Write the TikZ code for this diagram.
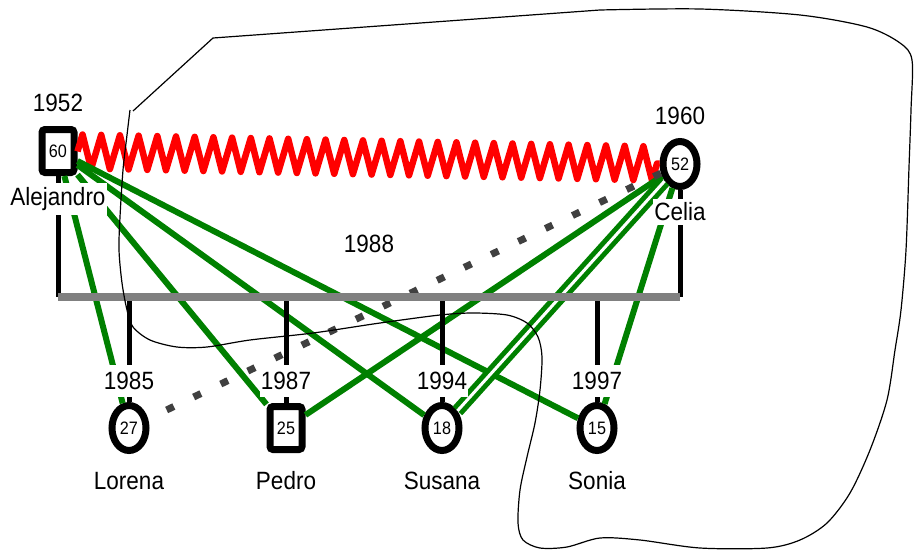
\documentclass[tikz,border=0pt]{standalone}
\usepackage{fontspec}
\setmainfont{Liberation Sans}[FakeStretch=0.9]
\usepackage{tikz}
\usetikzlibrary{shapes.geometric, decorations.pathmorphing, positioning}
\definecolor{kingreen}{RGB}{0,128,0}
\definecolor{bargray}{RGB}{128,128,128}
\definecolor{dotgray}{RGB}{64,64,64}
\tikzstyle{male} = [rectangle, rounded corners=3pt, minimum width=32pt, minimum height=43pt, inner sep=0pt, line width=7pt, draw=black, fill=white, font=\fontsize{18}{20}\selectfont]
\tikzstyle{female} = [ellipse, minimum width=34pt, minimum height=45pt, inner sep=0pt, line width=7pt, draw=black, fill=white, font=\fontsize{18}{20}\selectfont]
\tikzstyle{yearlbl} = [fill=white, inner xsep=1pt, inner ysep=7.5pt, font=\fontsize{25}{30}\selectfont]
\tikzstyle{namelbl} = [fill=white, inner xsep=1pt, inner ysep=4pt, font=\fontsize{25}{30}\selectfont]
\tikzstyle{closeline} = [line width=6pt, draw=kingreen]
\tikzstyle{fusedline} = [line width=5pt, draw=kingreen, double=white, double distance=3pt]
\tikzstyle{distantline} = [line width=7pt, draw=dotgray, dash pattern=on 8pt off 22pt]
\tikzstyle{conflict} = [line width=6.5pt, draw=red, line join=round, decorate, decoration={zigzag, segment length=18.7pt, amplitude=17pt}]
\tikzstyle{descent} = [line width=5pt, draw=black]
\tikzstyle{marriage} = [line width=7.5pt, draw=bargray]

\begin{document}
\begin{tikzpicture}[x=1pt, y=-1pt, node distance=48pt]
	\useasboundingbox (0,0) rectangle (915,551);

	% people
	\node (alejandro) [male] at (58,151) {60};
	\node (celia) [female] at (680,164) {52};
	\node (lorena) [female, below of=alejandro, xshift=71pt, yshift=-229pt] {27};
	\node (pedro) [male, right of=lorena, xshift=109pt] {25};
	\node (susana) [female, right of=pedro, xshift=108pt] {18};
	\node (sonia) [female, right of=susana, xshift=107pt] {15};

	\coordinate (barL) at (58,297);
	\coordinate (barR) at (celia |- barL);

	% relationships
	\draw [conflict] (alejandro) -- (celia);
	\draw [closeline] (alejandro) -- (lorena);
	\draw [closeline] (alejandro) -- (pedro);
	\draw [closeline] (alejandro) -- (susana);
	\draw [closeline] (alejandro) -- (sonia);
	\draw [closeline] (celia) -- (pedro);
	\draw [closeline] (celia) -- (sonia);
	\draw [fusedline] (celia) -- (susana);
	\draw [distantline] (celia) -- (lorena);

	% descent lines
	\draw [descent] (alejandro) -- (barL);
	\draw [descent] (celia) -- (barR);
	\foreach \kid in {lorena, pedro, susana, sonia}
		\draw [descent] (\kid) -- (\kid |- barL);
	\draw [marriage] (barL) -- (barR);

	% labels
	\node (born_a) [yearlbl, above of=alejandro] {1952};
	\node (born_c) [yearlbl, above of=celia] {1960};
	\node (name_a) [namelbl, below of=alejandro] {Alejandro};
	\node (name_c) [namelbl, below of=celia] {Celia};
	\node (wedding) [font=\fontsize{25}{30}\selectfont] at (369,244) {1988};
	\node (born_l) [yearlbl, above of=lorena, yshift=-1pt] {1985};
	\node (born_p) [yearlbl, above of=pedro, yshift=-1pt] {1987};
	\node (born_su) [yearlbl, above of=susana, yshift=-1pt] {1994};
	\node (born_so) [yearlbl, above of=sonia, yshift=-1pt] {1997};
	\node (name_l) [namelbl, below of=lorena, yshift=-5pt] {Lorena};
	\node (name_p) [namelbl, below of=pedro, yshift=-5pt] {Pedro};
	\node (name_su) [namelbl, below of=susana, yshift=-5pt] {Susana};
	\node (name_so) [namelbl, below of=sonia, yshift=-5pt] {Sonia};

	% household boundary
	\draw [line width=1.2pt] (133,111) -- (213,38) -- (600,10) -- plot [smooth, tension=0.5] coordinates {(600,10) (700,9) (800,15) (867,27) (900,43) (912,60) (911,110) (909,167) (906,250) (901,310) (895,350) (887,400) (870,450) (850,493) (827,523) (800,540) (767,548) (700,548) (640,540) (600,538) (567,547) (540,548) (523,540) (518,523) (520,490) (527,457) (535,423) (540,390) (542,357) (538,337) (527,323) (507,315) (473,313) (440,315) (380,323) (313,333) (250,340) (207,347) (177,347) (150,340) (133,327) (127,310) (122,283) (119,250) (120,217) (123,170) (127,135) (130,110)};
\end{tikzpicture}
\end{document}
